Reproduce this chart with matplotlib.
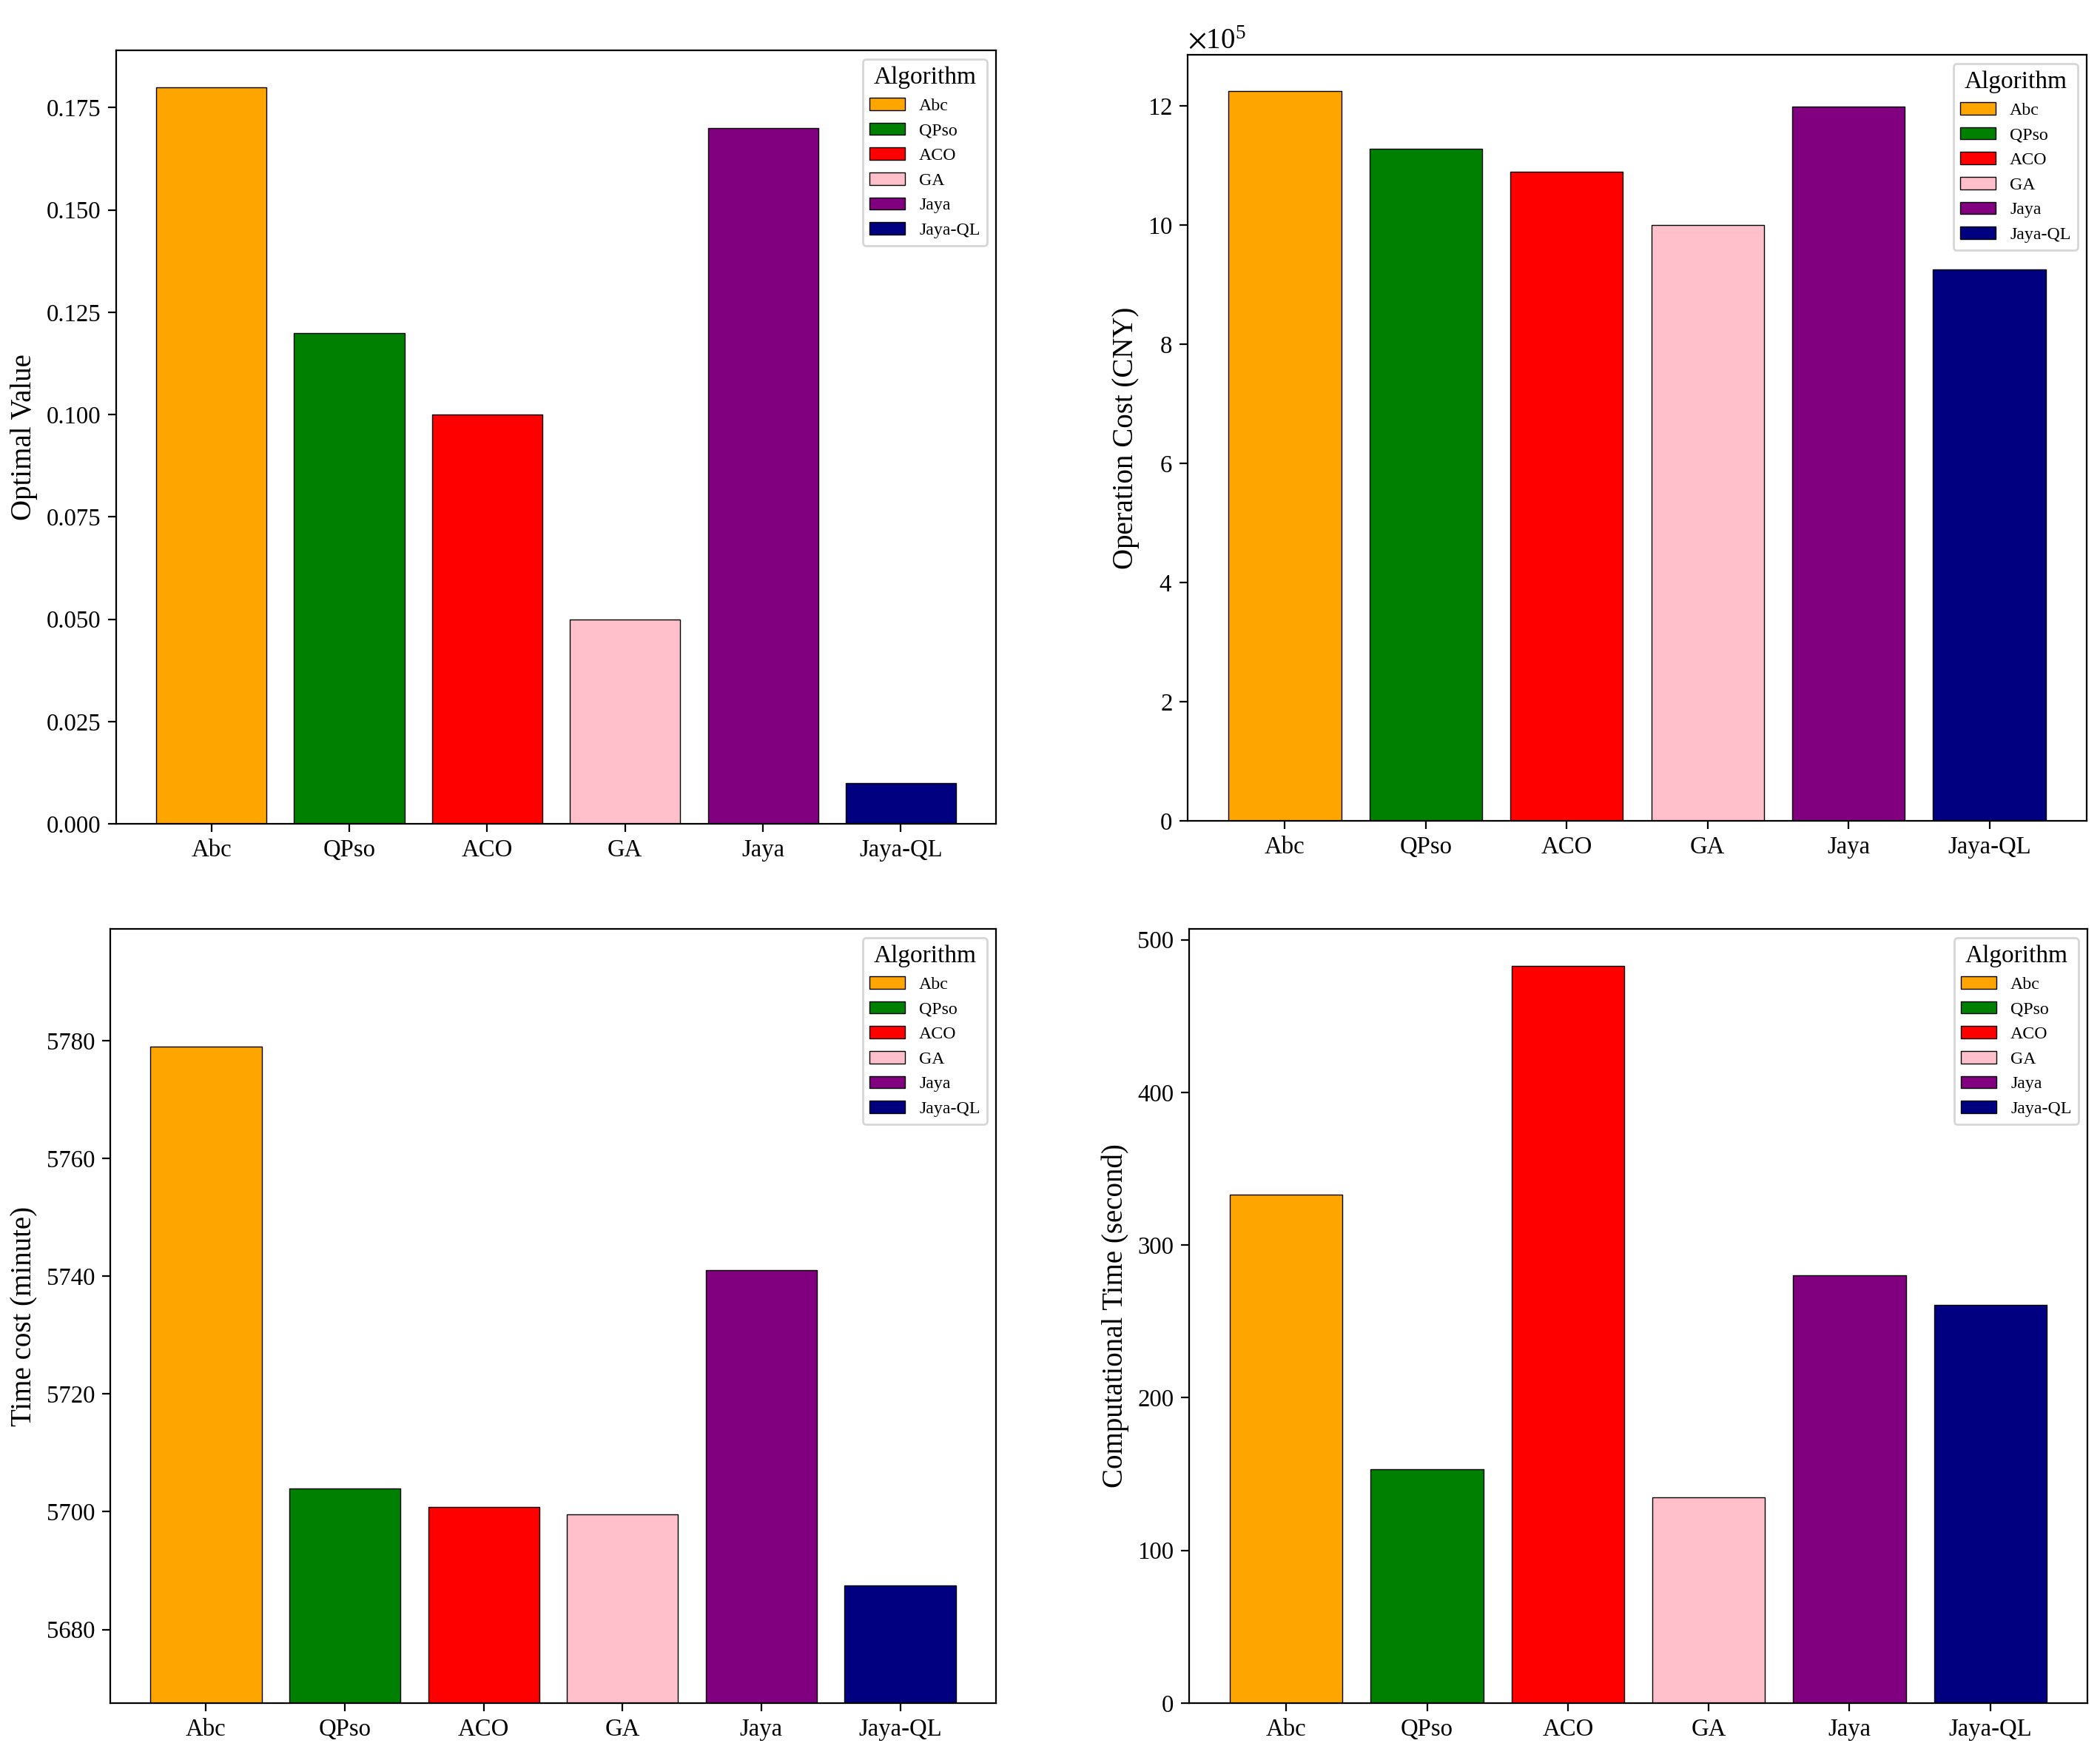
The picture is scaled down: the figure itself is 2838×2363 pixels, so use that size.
import matplotlib
matplotlib.use("Agg")
import matplotlib.pyplot as plt
from matplotlib.ticker import ScalarFormatter

plt.rcParams['font.family'] = ['Liberation Serif', 'DejaVu Serif']
plt.rcParams['mathtext.fontset'] = 'stix'

algorithms = ['Abc', 'QPso', 'ACO', 'GA', 'Jaya', 'Jaya-QL']
colors = ['orange', 'green', 'red', 'pink', 'purple', 'navy']

optimal_value = [0.18, 0.12, 0.10, 0.05, 0.17, 0.01]
operation_cost = [1225000, 1128000, 1090000, 1000000, 1199000, 926000]
time_cost = [5779, 5704, 5700.8, 5699.5, 5741, 5687.5]
comp_time = [333, 153, 483, 135, 280, 261]

W, H = 2838, 2363
fig = plt.figure(figsize=(W / 200, H / 200), dpi=200)


def box(x0, x1, y0, y1):
    return [x0 / W, 1 - y1 / H, (x1 - x0) / W, (y1 - y0) / H]


def draw(ax, values, ylabel):
    bars = ax.bar(algorithms, values, color=colors, edgecolor='black', linewidth=0.5)
    for b, name in zip(bars, algorithms):
        b.set_label(name)
    ax.set_ylabel(ylabel, fontsize=14)
    ax.tick_params(labelsize=11.8, length=4, width=0.8)
    ax.legend(title='Algorithm', fontsize=8.6, title_fontsize=12, loc='upper right')
    return ax


ax1 = fig.add_axes(box(157, 1346, 68, 1113))
draw(ax1, optimal_value, 'Optimal Value')

ax2 = fig.add_axes(box(1605, 2820, 74, 1109))
draw(ax2, operation_cost, 'Operation Cost (CNY)')
fmt = ScalarFormatter(useMathText=True)
fmt.set_powerlimits((5, 5))
ax2.yaxis.set_major_formatter(fmt)
ax2.yaxis.get_offset_text().set_fontsize(14)

ax3 = fig.add_axes(box(149, 1346, 1255, 2301))
draw(ax3, time_cost, 'Time cost (minute)')
ax3.set_ylim(min(time_cost) - 20, max(time_cost) + 20)

ax4 = fig.add_axes(box(1607, 2821, 1255, 2301))
draw(ax4, comp_time, 'Computational Time (second)')

fig.savefig('out.png', dpi=200)
